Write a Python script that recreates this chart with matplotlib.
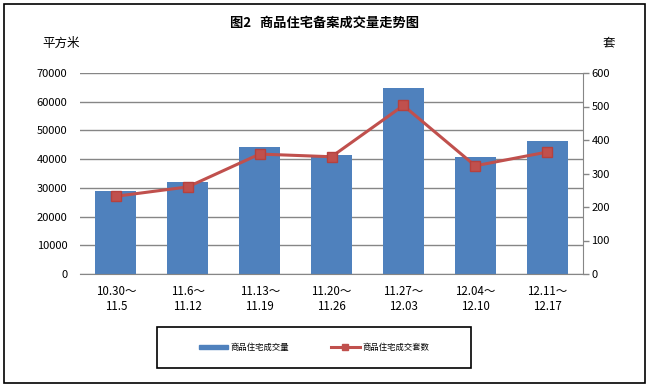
import numpy as np
import matplotlib.pyplot as plt
from matplotlib.patches import Rectangle
from matplotlib.lines import Line2D
from matplotlib.patches import Patch

plt.rcParams['font.family'] = ['Noto Sans CJK SC', 'DejaVu Sans']

# data
weeks = ['10.30～\n11.5', '11.6～\n11.12', '11.13～\n11.19', '11.20～\n11.26',
         '11.27～\n12.03', '12.04～\n12.10', '12.11～\n12.17']
area = [29000, 32100, 44300, 41500, 64900, 40900, 46400]   # 平方米
units = [232, 260, 358, 350, 503, 323, 364]                 # 套

bar_color = '#4F81BD'
line_color = '#C0504D'
grid_color = '#868686'

fig = plt.figure(figsize=(6.51, 3.87), dpi=100)
W, H = 651, 387
ax = fig.add_axes([80 / W, 1 - 274 / H, (583 - 80) / W, (274 - 73) / H])

x = np.arange(len(weeks))
ax.bar(x, area, width=0.57, color=bar_color, zorder=2)
ax.set_xlim(-0.5, len(weeks) - 0.5)
ax.set_ylim(0, 70000)
ax.set_yticks(np.arange(0, 70001, 10000))
ax.yaxis.grid(True, color=grid_color, linewidth=1.0, zorder=0)
ax.set_axisbelow(True)
ax.set_xticks(x)
ax.set_xticklabels(weeks, fontsize=8.3, linespacing=1.15)
ax.tick_params(axis='x', length=0, pad=8)
ax.tick_params(axis='y', length=0, pad=9, labelsize=8)
for s in ['top', 'right', 'left']:
    ax.spines[s].set_visible(False)
ax.spines['bottom'].set_color(grid_color)

ax2 = ax.twinx()
ax2.plot(x, units, color=line_color, linewidth=2.2, marker='s', markersize=7,
         markerfacecolor=line_color, markeredgecolor='#B5413E', zorder=3)
ax2.set_ylim(0, 600)
ax2.set_yticks(np.arange(0, 601, 100))
ax2.tick_params(axis='y', length=4, width=1, color=grid_color, pad=2, labelsize=8)
for s in ['top', 'left', 'bottom']:
    ax2.spines[s].set_visible(False)
ax2.spines['right'].set_color(grid_color)

# titles and unit labels
fig.text(325 / W, 1 - 23 / H, '图2   商品住宅备案成交量走势图', ha='center', va='center',
         fontsize=9.5, fontweight='bold')
fig.text(42 / W, 1 - 43 / H, '平方米', ha='left', va='center', fontsize=9)
fig.text(603 / W, 1 - 43 / H, '套', ha='left', va='center', fontsize=9)

# outer border
fig.patches.append(Rectangle((4 / W, 1 - 383 / H), (645 - 4) / W, (383 - 4) / H,
                             transform=fig.transFigure, fill=False,
                             edgecolor='black', linewidth=1.2))
# legend box
fig.patches.append(Rectangle((157 / W, 1 - 368 / H), (471 - 157) / W, (368 - 327) / H,
                             transform=fig.transFigure, fill=False,
                             edgecolor='black', linewidth=1.2))
handles = [Patch(color=bar_color, label='商品住宅成交量'),
           Line2D([], [], color=line_color, linewidth=2.2, marker='s', markersize=5,
                  label='商品住宅成交套数')]
fig.legend(handles=handles, loc='center', bbox_to_anchor=(314 / W, 1 - 347.5 / H),
           ncol=2, frameon=False, fontsize=6, handlelength=3.5, handleheight=0.5,
           columnspacing=5, handletextpad=0.3)

fig.savefig('out.png', dpi=100)
